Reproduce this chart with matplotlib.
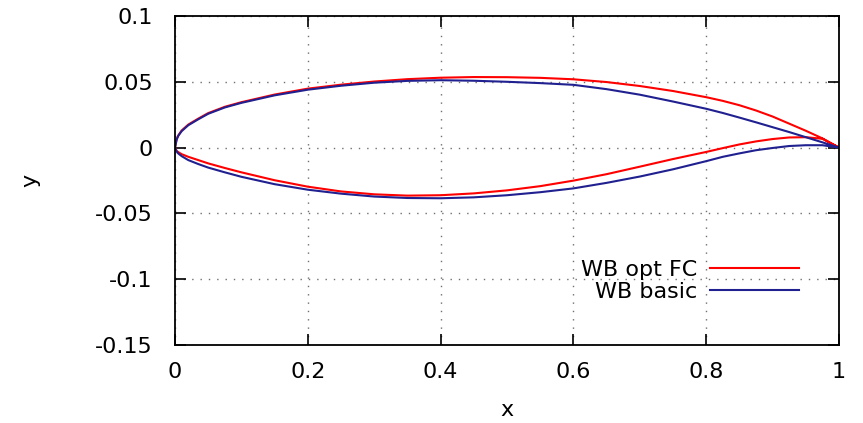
import matplotlib
matplotlib.use("Agg")
import matplotlib.pyplot as plt

# chord stations shared by both airfoils
x_st = [0, 0.0025, 0.005, 0.01, 0.02, 0.035, 0.05, 0.075, 0.1, 0.15, 0.2, 0.25, 0.3,
        0.35, 0.4, 0.45, 0.5, 0.55, 0.6, 0.65, 0.7, 0.75, 0.8, 0.825, 0.85, 0.875,
        0.9, 0.925, 0.95, 0.975, 1.0]

# WB opt FC
opt_upper = [0, 0.0065, 0.0093, 0.013, 0.0175, 0.022, 0.0262, 0.031, 0.0345, 0.0403,
             0.0448, 0.0478, 0.0502, 0.0520, 0.0531, 0.0536, 0.0535, 0.0530, 0.0519,
             0.0498, 0.0468, 0.0430, 0.0383, 0.0355, 0.0322, 0.0282, 0.0236, 0.0182,
             0.0128, 0.0070, 0.0]
opt_lower = [0, -0.0025, -0.0035, -0.005, -0.007, -0.0095, -0.012, -0.0155, -0.0188,
             -0.0248, -0.0297, -0.0333, -0.0355, -0.0365, -0.0362, -0.0348, -0.0325,
             -0.0293, -0.0251, -0.0202, -0.0145, -0.0087, -0.0033, -0.0004, 0.0024,
             0.0047, 0.0065, 0.0077, 0.0079, 0.0067, 0.0]

# WB basic
basic_upper = [0, 0.0062, 0.009, 0.0125, 0.017, 0.0215, 0.0257, 0.0305, 0.034, 0.0397,
               0.044, 0.047, 0.0493, 0.0507, 0.0512, 0.0508, 0.0500, 0.0490, 0.0477,
               0.0444, 0.0402, 0.0350, 0.0295, 0.0263, 0.0228, 0.0192, 0.0155, 0.0118,
               0.0079, 0.0040, 0.0]
basic_lower = [0, -0.003, -0.0045, -0.0065, -0.0095, -0.0125, -0.0152, -0.0188, -0.0222,
               -0.0278, -0.032, -0.035, -0.0372, -0.0383, -0.0385, -0.0378, -0.0362,
               -0.0339, -0.031, -0.0268, -0.022, -0.0165, -0.0103, -0.007, -0.0044,
               -0.002, -0.0003, 0.0012, 0.0018, 0.0018, 0.0]

xticks = [0, 0.2, 0.4, 0.6, 0.8, 1]
xticklabels = ["0", "0.2", "0.4", "0.6", "0.8", "1"]
yticks = [-0.15, -0.1, -0.05, 0, 0.05, 0.1]
yticklabels = ["-0.15", "-0.1", "-0.05", "0", "0.05", "0.1"]

plt.rcParams['font.family'] = ['DejaVu Sans']
fig = plt.figure(figsize=(8.63, 4.23), dpi=100)
ax = fig.add_axes([0.2028, 0.1844, 0.7694, 0.7778])

red = "#ff0000"
blue = "#202090"

# closed contour: upper TE->LE, then lower LE->TE
ox = x_st[::-1] + x_st[1:]
oy = opt_upper[::-1] + opt_lower[1:]
bx = x_st[::-1] + x_st[1:]
by = basic_upper[::-1] + basic_lower[1:]

ax.plot(ox, oy, color=red, lw=1.5, label="WB opt FC")
ax.plot(bx, by, color=blue, lw=1.5, label="WB basic")

ax.set_xlim(0, 1)
ax.set_ylim(-0.15, 0.1)
ax.set_xticks(xticks)
ax.set_xticklabels(xticklabels)
ax.set_yticks(yticks)
ax.set_yticklabels(yticklabels)

ax.grid(True, color="#707070", linestyle=(0, (1, 5)), linewidth=1.0)
ax.tick_params(direction="in", length=8, width=1.2, top=True, right=True,
               labelsize=16, pad=12, colors="black")
ax.tick_params(axis="y", pad=16)
for s in ax.spines.values():
    s.set_linewidth(1.3)

ax.set_xlabel("x", fontsize=16, labelpad=13)
ax.set_ylabel("y", fontsize=16, labelpad=39)

leg = ax.legend(loc="lower right", frameon=False, markerfirst=False, fontsize=16,
                handlelength=4.0, handletextpad=0.6, labelspacing=0.1,
                bbox_to_anchor=(0.97, 0.07))
for t in leg.get_texts():
    t.set_ha("right")

fig.savefig("out.png", dpi=100)
